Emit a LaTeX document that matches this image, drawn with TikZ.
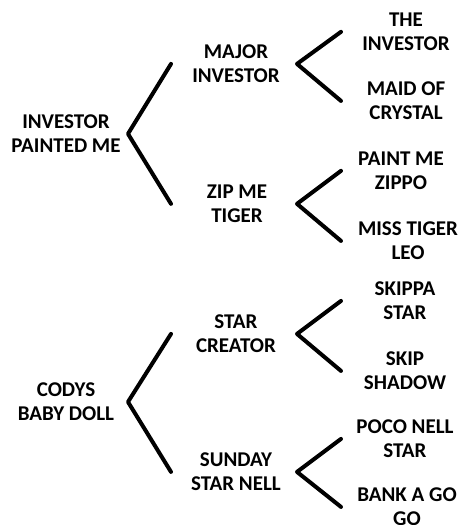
\documentclass[tikz,border=0pt]{standalone}
\usepackage{fontspec}
\setmainfont{Carlito}

\begin{document}
\begin{tikzpicture}[x=1pt, y=-1pt,
	horse/.style={font=\bfseries\fontsize{21}{23.5}\selectfont, align=center, inner sep=0pt, anchor=north},
	branch/.style={line width=4pt, line cap=round, line join=round}]
	\useasboundingbox (0,0) rectangle (464,525);
	% generation 0
	\node[horse] (ip) at (66,115) {INVESTOR\\PAINTED ME};
	\node[horse] (cb) at (66,383) {CODYS\\BABY DOLL};
	% generation 1
	\node[horse] (mi) at (236,45) {MAJOR\\INVESTOR};
	\node[horse] (zt) at (237,185) {ZIP ME\\TIGER};
	\node[horse] (sc) at (236,315) {STAR\\CREATOR};
	\node[horse] (ss) at (236,453) {SUNDAY\\STAR NELL};
	% generation 2
	\node[horse] (ti) at (406,13) {THE\\INVESTOR};
	\node[horse] (mc) at (406,82) {MAID OF\\CRYSTAL};
	\node[horse] (pz) at (401,152) {PAINT ME\\ZIPPO};
	\node[horse] (ml) at (408,222) {MISS TIGER\\LEO};
	\node[horse] (sk) at (405,282) {SKIPPA\\STAR};
	\node[horse] (sh) at (405,352) {SKIP\\SHADOW};
	\node[horse] (pn) at (405,420) {POCO NELL\\STAR};
	\node[horse] (bg) at (407,488) {BANK A GO\\GO};
	% bracket columns
	\coordinate (v0) at (128,0);
	\coordinate (t0) at (171,0);
	\coordinate (v1) at (297,0);
	\coordinate (t1) at (341,0);
	\foreach \p/\a/\b in {ip/mi/zt, cb/sc/ss}
	\draw[branch] (\a -| t0) -- (\p -| v0) -- (\b -| t0);
	\foreach \p/\a/\b in {mi/ti/mc, zt/pz/ml, sc/sk/sh, ss/pn/bg}
	\draw[branch] (\a -| t1) -- (\p -| v1) -- (\b -| t1);
\end{tikzpicture}
\end{document}
